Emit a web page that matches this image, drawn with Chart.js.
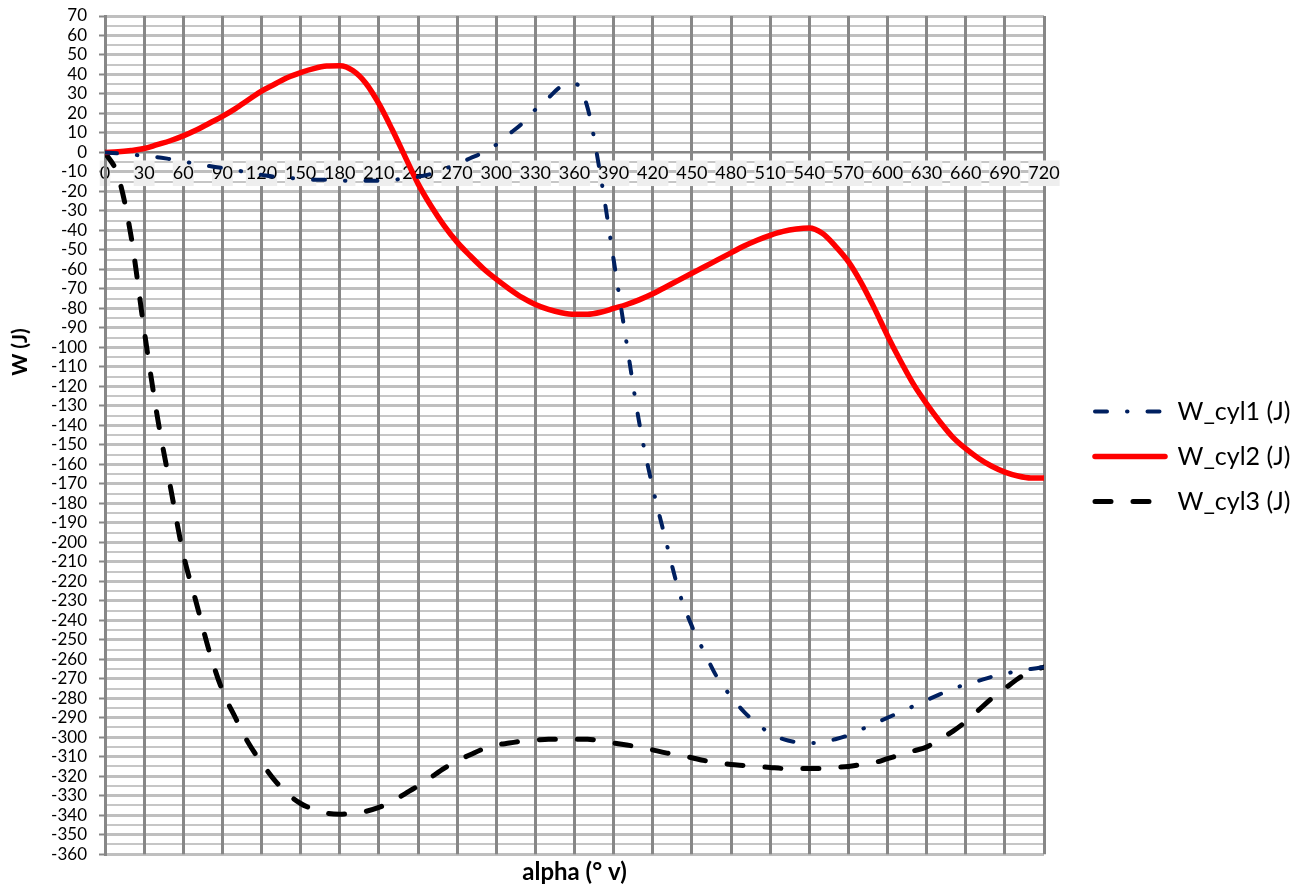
<!doctype html>
<html lang="fr">
<head>
<meta charset="utf-8">
<title>W_cyl</title>
<script src="https://cdn.jsdelivr.net/npm/chart.js@4.4.1/dist/chart.umd.min.js"></script>
<style>
  html, body { margin: 0; padding: 0; background: #fff; }
</style>
</head>
<body>
<canvas id="myChart" width="1305" height="889"></canvas>
<script>
// angle vilebrequin (degres)
var alpha = [0,10,20,30,40,50,60,70,80,90,100,110,120,130,140,150,160,170,180,190,200,210,220,230,240,
  250,260,270,280,290,300,310,320,330,340,350,360,370,380,390,400,410,420,430,440,450,460,470,480,490,
  500,510,520,530,540,550,560,570,580,590,600,610,620,630,640,650,660,670,680,690,700,710,720];

var wCyl1 = [0,-0.5,-1,-1.8,-2.4,-3.4,-4.5,-6,-7,-8,-9,-10.5,-11.5,-12.5,-13,-13.5,-14,-14,-14.5,-14.5,
  -14.5,-14.5,-14,-13.5,-12.5,-11,-8.5,-6,-3,0,4,9.5,15,22,28,34,35.5,23,-12,-55,
  -98,-140,-172,-199,-225,-243,-257,-270,-279,-287,-293,-298,-301,-302.5,-303,-302.5,-301,-299,-296,-293,
  -290,-287,-284,-281,-278,-275,-273,-271,-269,-267.5,-266,-265,-264];

var wCyl2 = [0,0.3,1,2,4,6,8.5,11.5,15,18.5,22.5,27,31.5,35,38.5,41,43,44.3,44.5,42,
  35.5,25,12,-2,-16,-27.5,-37.5,-46,-53,-59.5,-65,-70,-74.5,-78,-80.5,-82.2,-83,-83,-82,-80,
  -78,-75.5,-72.5,-69,-65.5,-62,-58.5,-55,-51.5,-48,-45,-42.5,-40.5,-39.3,-38.8,-41.5,-48,-56,-67,-80,
  -94,-107,-119,-129,-138,-146,-152,-157,-161,-164,-166,-167,-167];

var wCyl3 = [0,-12,-43,-91,-135,-171,-206,-231,-256,-276,-290,-303,-313,-322,-329,-334,-337,-339,-339.5,-339,
  -338,-336,-333,-329,-325,-320.5,-316,-312,-309,-306,-304,-303,-302,-301.5,-301,-301,-301,-301,-302,-303,
  -304,-305,-306.5,-308,-309,-310.5,-312,-313,-314,-314.5,-315,-315.5,-316,-316,-316,-316,-315.5,-315,-314,-313,
  -311,-309,-307,-305,-301,-297,-292,-286,-280,-275,-270,-266,-264];

var seriesNames = ['W_cyl1 (J)', 'W_cyl2 (J)', 'W_cyl3 (J)'];
var xTitle = 'alpha (° v)';
var yTitle = 'W (J)';

function pts(ys) {
  return alpha.map(function (a, i) { return {x: a, y: ys[i]}; });
}

// titre vertical de l'axe W, place comme dans Excel (un peu au-dessus du centre)
var yTitlePlugin = {
  id: 'yTitle',
  afterDraw: function (chart) {
    var ctx = chart.ctx;
    ctx.save();
    ctx.translate(20, 352);
    ctx.rotate(-Math.PI / 2);
    ctx.font = 'bold 21px Lato';
    ctx.fillStyle = '#000';
    ctx.textAlign = 'center';
    ctx.textBaseline = 'middle';
    ctx.fillText(yTitle, 0, 0);
    ctx.restore();
  }
};

var ctx = document.getElementById('myChart').getContext('2d');
new Chart(ctx, {
  type: 'line',
  data: {
    datasets: [
      {
        label: seriesNames[0],
        data: pts(wCyl1),
        borderColor: '#002060',
        backgroundColor: '#002060',
        borderWidth: 4,
        borderDash: [12, 20, 0.5, 20],
        borderCapStyle: 'round',
        pointRadius: 0,
        tension: 0.4,
        cubicInterpolationMode: 'monotone',
        fill: false
      },
      {
        label: seriesNames[1],
        data: pts(wCyl2),
        borderColor: '#ff0000',
        backgroundColor: '#ff0000',
        borderWidth: 5.5,
        borderCapStyle: 'round',
        pointRadius: 0,
        tension: 0.4,
        cubicInterpolationMode: 'monotone',
        fill: false
      },
      {
        label: seriesNames[2],
        data: pts(wCyl3),
        borderColor: '#000000',
        backgroundColor: '#000000',
        borderWidth: 5,
        borderDash: [16, 22],
        borderCapStyle: 'round',
        pointRadius: 0,
        tension: 0.4,
        cubicInterpolationMode: 'monotone',
        fill: false
      }
    ]
  },
  options: {
    responsive: false,
    animation: false,
    devicePixelRatio: 1,
    layout: { padding: { top: 16, right: 15, bottom: 0, left: 0 } },
    scales: {
      x: {
        type: 'linear',
        position: { y: 0 },
        min: 0,
        max: 720,
        ticks: {
          stepSize: 30,
          color: '#000',
          font: { family: 'Lato', size: 18 },
          padding: 10,
          maxRotation: 0,
          autoSkip: false,
          showLabelBackdrop: true,
          backdropColor: '#eeeeee',
          backdropPadding: { x: 0, y: 2 }
        },
        grid: { color: '#878787', lineWidth: 3, drawTicks: false, z: -1 },
        border: { color: '#878787', width: 2 }
      },
      xTitle: {
        type: 'linear',
        position: 'bottom',
        min: 0,
        max: 720,
        ticks: { display: false },
        grid: { display: false, drawTicks: false },
        border: { display: false },
        title: {
          display: true,
          text: xTitle,
          color: '#000',
          font: { family: 'Lato', size: 24, weight: 'bold' },
          padding: { top: 4, bottom: 2 }
        }
      },
      y: {
        type: 'linear',
        position: 'left',
        min: -360,
        max: 70,
        afterFit: function (s) { s.width = 105; s.paddingTop = 5; s.paddingBottom = 5; },
        ticks: {
          stepSize: 5,
          autoSkip: false,
          color: '#000',
          font: { family: 'Lato', size: 17 },
          padding: 12,
          callback: function (v) { return v % 10 === 0 ? v : ''; }
        },
        grid: {
          z: -2,
          color: function (c) { return c.tick && c.tick.value % 10 === 0 ? '#bfbfbf' : '#c6c6c6'; },
          lineWidth: function (c) { return c.tick && c.tick.value % 10 === 0 ? 3 : 2; },
          tickColor: function (c) { return c.tick && c.tick.value % 10 === 0 ? '#878787' : 'rgba(0,0,0,0)'; },
          tickLength: 6,
          tickWidth: 2
        },
        border: { color: '#878787', width: 3 }
      },
      ySpace: {
        type: 'linear',
        position: 'right',
        display: true,
        afterFit: function (s) { s.width = 31; s.paddingTop = 0; s.paddingBottom = 0; },
        ticks: { display: false },
        grid: { display: false, drawTicks: false },
        border: { display: false }
      }
    },
    plugins: {
      tooltip: { enabled: false },
      legend: {
        position: 'right',
        align: 'center',
        title: { display: true, text: ' ', font: { size: 5 }, padding: { top: 1, bottom: 1 } },
        labels: {
          usePointStyle: true,
          pointStyle: 'line',
          pointStyleWidth: 70,
          color: '#000',
          font: { family: 'Lato', size: 25 },
          padding: 20,
          generateLabels: function (chart) {
            var items = Chart.defaults.plugins.legend.labels.generateLabels(chart);
            items.forEach(function (it, i) {
              var ds = chart.data.datasets[i];
              it.lineDash = ds.borderDash || [];
              it.lineWidth = ds.borderWidth;
              it.lineCap = 'round';
              it.strokeStyle = ds.borderColor;
              it.pointStyle = 'line';
            });
            return items;
          }
        }
      }
    }
  },
  plugins: [yTitlePlugin]
});
</script>
</body>
</html>
